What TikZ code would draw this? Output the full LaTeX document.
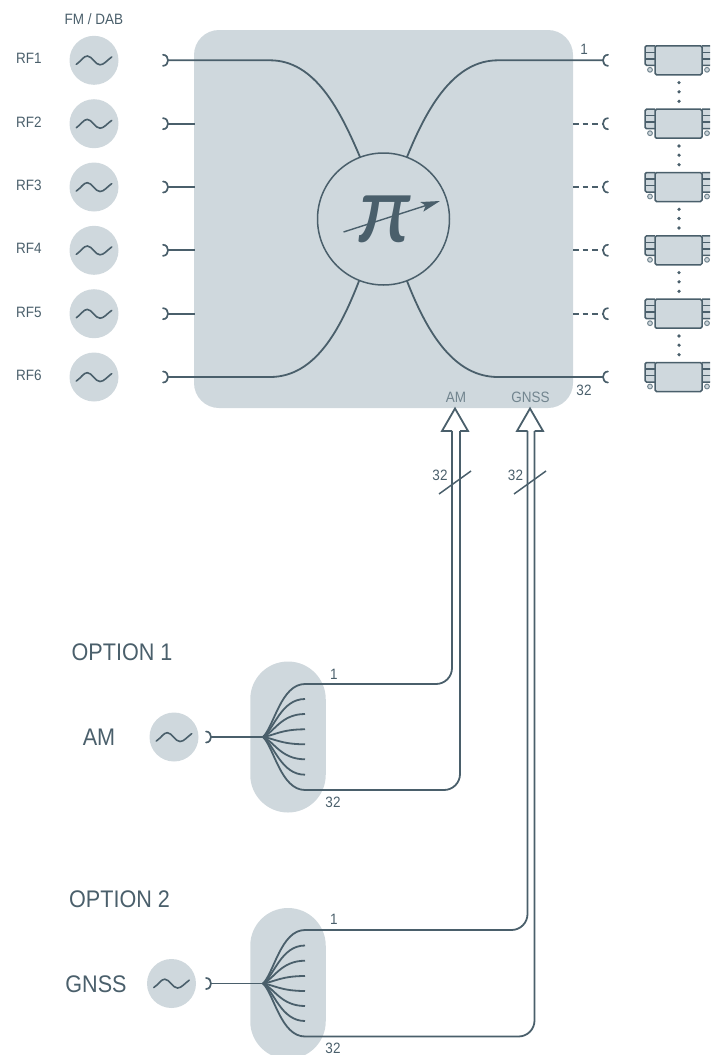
\documentclass[tikz,border=0pt]{standalone}
\usepackage{fontspec}
\setmainfont[FakeStretch=0.9]{Liberation Sans}
\newfontfamily\pifamily{Lato}
\usetikzlibrary{arrows.meta}
\definecolor{panel}{HTML}{CFD8DD}
\definecolor{ink}{HTML}{4A5F6B}
\definecolor{soft}{HTML}{72858F}
\tikzset{
  wire/.style={draw=ink,line width=1.8pt},
  thin wire/.style={draw=ink,line width=1.5pt},
  cupline/.style={draw=ink,line width=1.7pt,line cap=round},
  source/.style={circle,fill=panel,minimum size=49pt,inner sep=0pt},
  capsule/.style={fill=panel,minimum width=75.5pt,minimum height=151pt,rounded corners=37.7pt,inner sep=0pt},
  small/.style={text=ink,font=\fontsize{15}{16}\selectfont,inner sep=0pt},
  big/.style={text=ink,font=\fontsize{24}{26}\selectfont,inner sep=0pt},
  inlabel/.style={text=soft,font=\fontsize{15}{16}\selectfont,inner sep=0pt},
  sinewave/.pic={\draw[wire,line width=1.6pt,line cap=round] (-17.7,4) .. controls (-13,1) and (-10.5,-4.3) .. (-6.7,-4.3) .. controls (-2,-4.3) and (1,4.5) .. (6,4.5) .. controls (10,4.5) and (13,0) .. (17.7,-3.3);},
  leftcup/.pic={\draw[cupline] (0,-5.5) .. controls (3.5,-5.5) and (5,-2.5) .. (5,0) .. controls (5,2.5) and (3.5,5.5) .. (0,5.5);},
  rightcup/.pic={\draw[cupline] (0,-5.5) .. controls (-3.5,-5.5) and (-5,-2.5) .. (-5,0) .. controls (-5,2.5) and (-3.5,5.5) .. (0,5.5);},
  amplifier/.pic={
    \draw[thin wire,rounded corners=1.5pt,fill=panel] (-24,-14.5) -- (-34,-14.5) -- (-34,5) -- (-24,5);
    \draw[thin wire] (-34,-8) -- (-24,-8) (-34,-1.5) -- (-24,-1.5);
    \draw[thin wire,rounded corners=1.5pt,fill=panel] (23,-14.5) -- (33,-14.5) -- (33,5) -- (23,5);
    \draw[thin wire] (33,-8) -- (23,-8) (33,-1.5) -- (23,-1.5);
    \draw[thin wire,rounded corners=1.5pt,fill=panel] (-24,-14.5) rectangle (23,14.5);
    \draw[soft,line width=1pt,fill=panel] (-29,9.5) circle[radius=2.4pt] (28,9.5) circle[radius=2.4pt];
  },
  dotcolumn/.style={fill=ink,circle,minimum size=3.6pt,inner sep=0pt}
}
\begin{document}
\begin{tikzpicture}[x=1pt,y=-1pt]
\clip (0,0) rectangle (710,1055);
% main panel
\node[fill=panel,minimum width=379pt,minimum height=378pt,rounded corners=25pt,inner sep=0pt] (main) at (383.5,219) {};
% sources and labels
\foreach \i/\yy in {1/60.3,2/123.7,3/187,4/250.3,5/313.7,6/377}{
  \node[source] (src\i) at (94,\yy) {};
  \pic at (src\i) {sinewave};
  \coordinate (in\i) at (168,\yy);
  \pic at (163,\yy) {leftcup};
  \coordinate (edgeL\i) at (194.5,\yy);
  \coordinate (out\i) at (603,\yy);
  \pic at (608,\yy) {rightcup};
  \coordinate (edgeR\i) at (573,\yy);
  \pic at (679,\yy) {amplifier};
}
\foreach \i/\yy in {1/58,2/122,3/185,4/248,5/312,6/375}{
  \node[small,anchor=west] (rf\i) at (16,\yy) {RF\i};
}
\node[small] (fmdab) at (94,19.5) {FM / DAB};
% dots between amplifiers
\foreach \yy [count=\k] in {60.3,123.7,187,250.3,313.7}{
  \node[dotcolumn] (da\k) at (679,\yy+22.3) {};
  \node[dotcolumn] (db\k) at (679,\yy+31.5) {};
  \node[dotcolumn] (dc\k) at (679,\yy+41) {};
}
% circle with pi
\node[circle,draw=ink,line width=1.5pt,fill=panel,minimum size=132pt,inner sep=0pt] (phase) at (383.5,219) {};
\node[text=ink,inner sep=0pt] (pisym) at (385,219) {\pifamily\itshape\fontsize{93}{93}\selectfont π};
\coordinate (arrowA) at (343.5,232);
\coordinate (arrowB) at (440,201);
\draw[draw=ink,line width=1.4pt,-{Stealth[length=19pt,width=10pt,inset=4pt]}] (arrowA) -- (arrowB);
% wires through the panel
\coordinate (c1) at (360,157); \coordinate (c2) at (407,157);
\coordinate (c3) at (359,281); \coordinate (c4) at (407,281);
\draw[wire] (in1) -- (270,60.3) .. controls (315,60.3) and (340,110) .. (c1);
\draw[wire] (out1) -- (498,60.3) .. controls (455,60.3) and (428,105) .. (c2);
\draw[wire] (in6) -- (270,377) .. controls (315,377) and (340,330) .. (c3);
\draw[wire] (out6) -- (498,377) .. controls (455,377) and (428,335) .. (c4);
\foreach \i in {2,3,4,5}{
  \draw[wire] (in\i) -- (edgeL\i);
  \draw[wire,dash pattern=on 5.5pt off 4pt] (edgeR\i) -- (out\i);
}
\node[small] (n1) at (584,49) {1};
\node[small] (n32) at (584,390) {32};
\node[inlabel] (lam) at (456,397) {AM};
\node[inlabel] (lgn) at (530.5,397) {GNSS};
% hollow arrows
\foreach \n/\x/\sa/\sb in {a/455/452/460,g/530/527.5/534.5}{
  \coordinate (tip\n) at (\x,408.5);
  \coordinate (bl\n) at (\x-13,431);
  \coordinate (br\n) at (\x+13,431);
  \coordinate (sl\n) at (\sa,431);
  \coordinate (sr\n) at (\sb,431);
  \draw[wire,line join=miter] (sl\n) -- (bl\n) -- (tip\n) -- (br\n) -- (sr\n);
  \coordinate (slashA\n) at (\x-16,494);
  \coordinate (slashB\n) at (\x+16,471);
  \draw[wire,line width=1.5pt] (slashA\n) -- (slashB\n);
}
\node[small] (m1) at (440,475) {32};
\node[small] (m2) at (515.5,475) {32};
% option blocks
\node[big] (opt1) at (122,652) {OPTION 1};
\node[big] (opt2) at (119.5,899) {OPTION 2};
\node[big] (amlabel) at (99,737) {AM};
\node[big] (gnsslabel) at (96,984) {GNSS};
\node[capsule] (cap1) at (288,737) {};
\node[capsule] (cap2) at (288,983.5) {};
\node[source] (src7) at (174,737) {};
\node[source] (src8) at (171.5,983.5) {};
\pic at (src7) {sinewave};
\pic at (src8) {sinewave};
\pic at (206,737) {leftcup};
\pic at (206,983.5) {leftcup};
\coordinate (hub1) at (263,737);
\coordinate (hub2) at (263,983.5);
\coordinate (feed1) at (211,737);
\coordinate (feed2) at (211,983.5);
\draw[wire] (feed1) -- (hub1);
\draw[wire] (feed2) -- (hub2);
\foreach \yy in {684,699,714,729.3,744.3,759.3,774.7,790}{
  \draw[wire] (hub1) .. controls (274,{737+(\yy-737)*0.2}) and (281,\yy) .. (305,\yy);
}
\foreach \yy in {930,945.5,960.7,976,991,1006,1021,1036.5}{
  \draw[wire] (hub2) .. controls (274,{983.5+(\yy-983.5)*0.2}) and (281,\yy) .. (305,\yy);
}
\draw[wire,rounded corners=16pt] (305,684) -- (452,684) -- (sla);
\draw[wire,rounded corners=16pt] (305,790) -- (460,790) -- (sra);
\draw[wire,rounded corners=16pt] (305,930) -- (527.5,930) -- (slg);
\draw[wire,rounded corners=16pt] (305,1036.5) -- (534.5,1036.5) -- (srg);
\node[small] (o1a) at (334,674) {1};
\node[small] (o1b) at (333,802) {32};
\node[small] (o2a) at (334,919) {1};
\node[small] (o2b) at (333,1048) {32};
\end{tikzpicture}
\end{document}
